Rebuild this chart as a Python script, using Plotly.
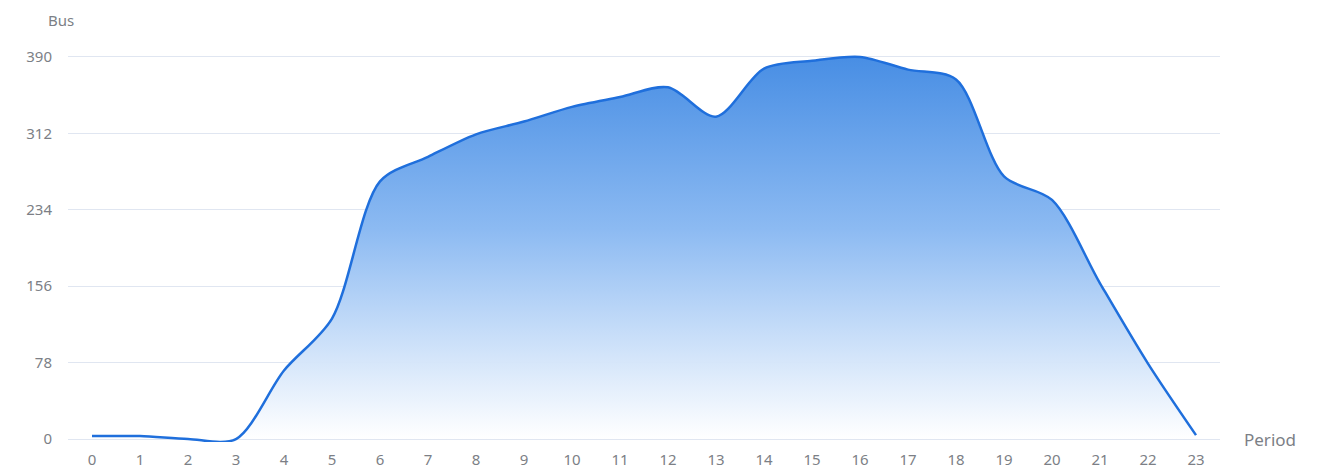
import plotly.graph_objects as go

# Hourly bus counts
periods = [str(h) for h in range(24)]
buses = [3, 3, 0, 0, 70, 123, 263, 288, 311, 324, 339, 349, 359, 329,
         378, 386, 390, 377, 367, 268, 244, 159, 77, 4]
y_ticks = [0, 78, 156, 234, 312, 390]

grid = "#e0e6f1"
label_color = "#7c7f86"
font_family = "Noto Sans, Open Sans, sans-serif"

fig = go.Figure()
fig.add_trace(go.Scatter(
    x=periods,
    y=buses,
    mode="lines",
    line=dict(color="#1f6fdc", width=2.5, shape="spline", smoothing=0.85),
    fill="tozeroy",
    fillgradient=dict(
        type="vertical",
        start=0,
        stop=390,
        colorscale=[[0, "rgba(255,255,255,0.95)"],
                    [0.55, "rgba(140,186,242,1)"],
                    [1, "rgba(72,142,228,1)"]],
    ),
    hoverinfo="x+y",
    showlegend=False,
))

fig.update_layout(
    width=1332,
    height=471,
    margin=dict(l=68, r=112, t=52, b=29, autoexpand=False),
    paper_bgcolor="white",
    plot_bgcolor="white",
    font=dict(family=font_family, size=15, color=label_color),
    xaxis=dict(
        type="category",
        range=[-0.5, 23.5],
        automargin=False,
        showgrid=False,
        showline=False,
        zeroline=False,
        ticks="outside",
        ticklen=4,
        tickcolor="rgba(0,0,0,0)",
        tickfont=dict(size=15, color=label_color),
    ),
    yaxis=dict(
        range=[-3, 395],
        automargin=False,
        tickvals=y_ticks,
        showgrid=True,
        gridcolor=grid,
        gridwidth=1,
        zeroline=True,
        zerolinecolor=grid,
        zerolinewidth=1,
        showline=False,
        ticks="outside",
        ticklen=12,
        tickcolor="rgba(0,0,0,0)",
        tickfont=dict(size=15, color=label_color),
    ),
    annotations=[
        dict(text="Bus", xref="paper", yref="paper", x=-0.006, y=1.0,
             xanchor="center", yanchor="bottom", yshift=20, showarrow=False,
             font=dict(size=15, color=label_color)),
        dict(text="Period", xref="paper", yref="y", x=1.0, y=0,
             xanchor="left", yanchor="middle", xshift=22, showarrow=False,
             font=dict(size=17, color=label_color)),
    ],
)

fig.write_html("out.html")
